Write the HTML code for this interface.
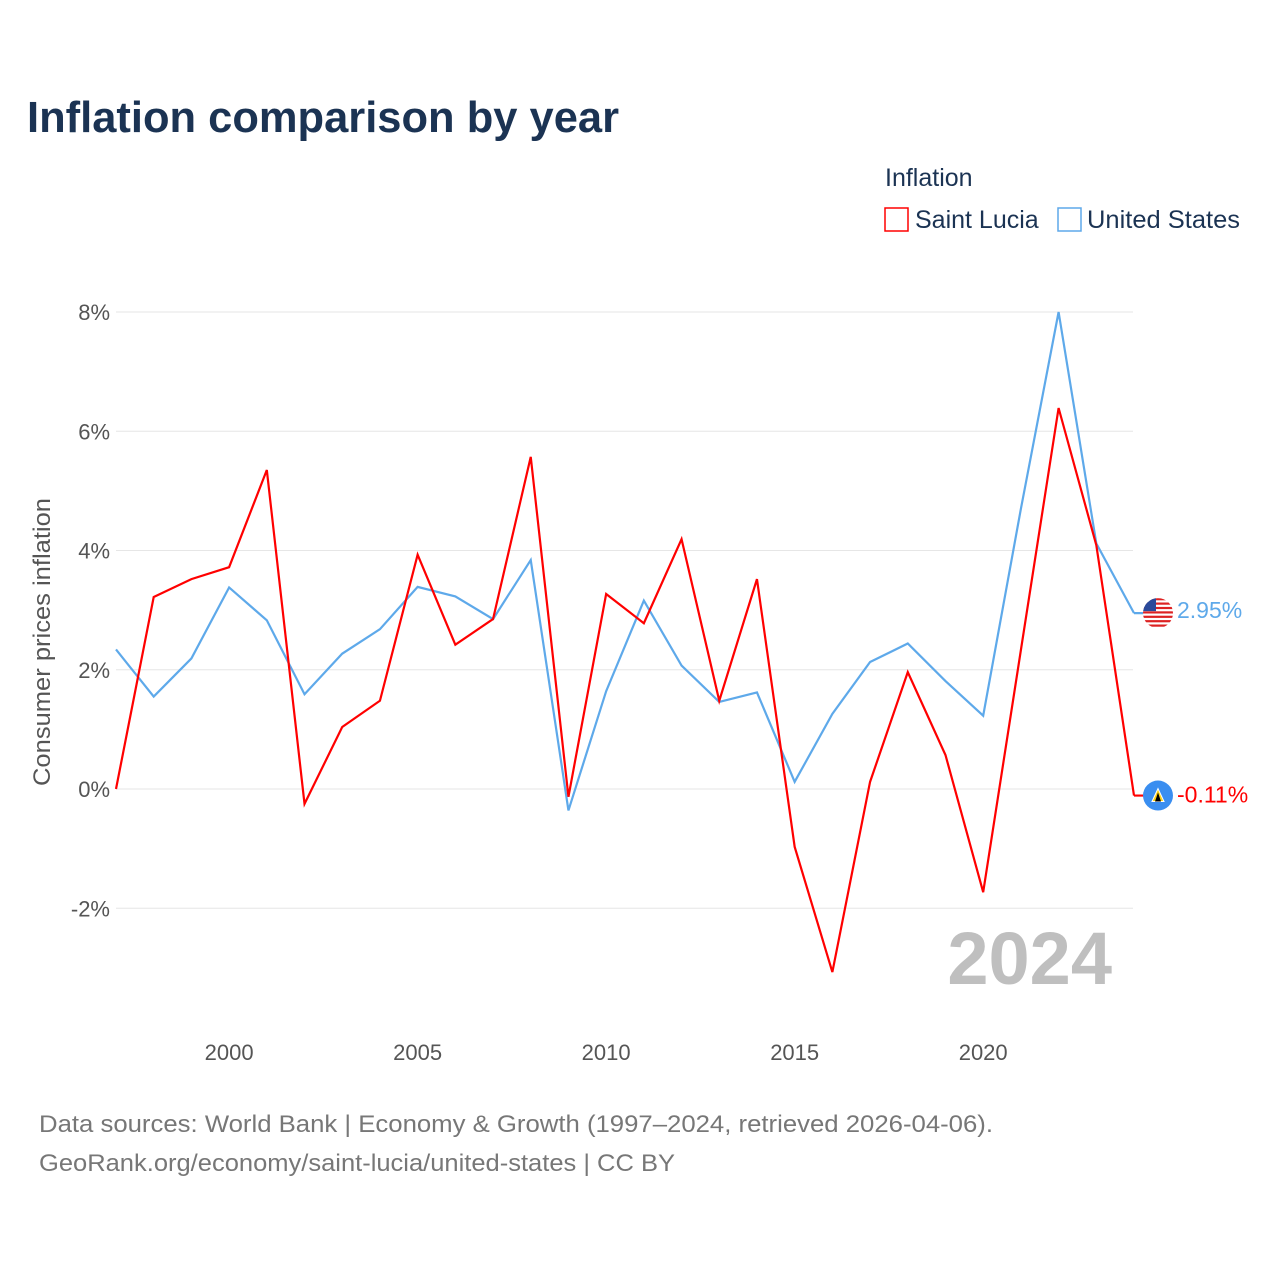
<!DOCTYPE html>
<html><head><meta charset="utf-8"><style>
body{margin:0;background:#fff;font-family:"Liberation Sans",sans-serif;}
#root{position:relative;width:1280px;height:1280px;overflow:hidden;}
</style></head><body>
<div id="root">
<svg id="chart" width="1280" height="1280"></svg>
</div>
<script>
const years=[1997,1998,1999,2000,2001,2002,2003,2004,2005,2006,2007,2008,2009,2010,2011,2012,2013,2014,2015,2016,2017,2018,2019,2020,2021,2022,2023,2024];
const saintLucia=[0.0,3.22,3.52,3.72,5.35,-0.25,1.04,1.48,3.93,2.42,2.85,5.57,-0.13,3.27,2.78,4.19,1.48,3.52,-0.97,-3.07,0.12,1.96,0.57,-1.73,2.33,6.39,4.09,-0.11];
const unitedStates=[2.34,1.55,2.19,3.38,2.83,1.59,2.27,2.68,3.39,3.23,2.85,3.84,-0.36,1.64,3.16,2.07,1.46,1.62,0.12,1.26,2.13,2.44,1.81,1.23,4.70,8.0,4.12,2.95];
const yTicks=[-2,0,2,4,6,8];
const xTicks=[2000,2005,2010,2015,2020];

const NS="http://www.w3.org/2000/svg";
const svg=document.getElementById('chart');
const X=v=>116+(v-1997)*(1134-116)/27;
const Y=v=>789-v*(789-312)/8;
function mk(tag,attrs,parent){const e=document.createElementNS(NS,tag);for(const k in attrs)e.setAttribute(k,attrs[k]);(parent||svg).appendChild(e);return e;}
function txt(s,attrs){const t=mk('text',attrs);t.textContent=s;return t;}

let t=txt('Inflation comparison by year',{x:27,y:132,'font-size':44,'font-weight':'bold',fill:'#1b3353',textLength:592,lengthAdjust:'spacingAndGlyphs'});



t=txt('Inflation',{x:885,y:186,'font-size':25,fill:'#1b3353'});


let r=mk('rect',{x:885,y:208,width:23,height:23,fill:'none',stroke:'#ff0000','stroke-width':1.5});


t=txt('Saint Lucia',{x:915,y:228,'font-size':25,fill:'#1b3353'});


r=mk('rect',{x:1058,y:208,width:23,height:23,fill:'none',stroke:'#5ea9ea','stroke-width':1.5});


t=txt('United States',{x:1087,y:228,'font-size':25,fill:'#1b3353',textLength:153,lengthAdjust:'spacingAndGlyphs'});



yTicks.forEach(v=>{
  const l=mk('line',{x1:116,x2:1133,y1:Y(v),y2:Y(v),stroke:'#e6e6e6','stroke-width':1});
  
  
  const tt=txt(v+'%',{x:110,y:Y(v)+8,'font-size':22,fill:'#555','text-anchor':'end'});
  
  
});
xTicks.forEach(v=>{
  const tt=txt(String(v),{x:X(v),y:1060,'font-size':22,fill:'#555','text-anchor':'middle'});
  
  
});
t=txt('Consumer prices inflation',{x:0,y:0,'font-size':24,fill:'#555','text-anchor':'middle',textLength:288,lengthAdjust:'spacingAndGlyphs',transform:'translate(50,642) rotate(-90)'});



t=txt('2024',{x:1112,y:984,'font-size':74,'font-weight':'bold',fill:'#bfbfbf','text-anchor':'end'});



function line(vals,color,name){
  const p=mk('polyline',{points:vals.map((v,i)=>X(years[i])+','+Y(v)).join(' '),fill:'none',stroke:color,'stroke-width':2.2,'stroke-linejoin':'miter'});
  
  
  const last=vals[vals.length-1];
  mk('line',{x1:X(2024),x2:1158,y1:Y(last),y2:Y(last),stroke:color,'stroke-width':2.2});
}
line(unitedStates,'#5ea9ea','series-united-states');
line(saintLucia,'#ff0000','series-saint-lucia');

const us=unitedStates[unitedStates.length-1];
const g1=mk('g',{});


const cp=mk('clipPath',{id:'c1'},g1);mk('circle',{cx:1158,cy:Y(us),r:15},cp);
const gg=mk('g',{'clip-path':'url(#c1)'},g1);
mk('rect',{x:1143,y:Y(us)-15,width:30,height:30,fill:'#fff'},gg);
for(let i=0;i<7;i++)mk('rect',{x:1143,y:Y(us)-15+i*4.4,width:30,height:2.2,fill:'#d22'},gg);
mk('rect',{x:1143,y:Y(us)-15,width:13,height:13,fill:'#2a4a9a'},gg);
t=txt(us.toFixed(2)+'%',{x:1177,y:Y(us)+5,'font-size':23,fill:'#5ea9ea'});



const sl=saintLucia[saintLucia.length-1];
const g2=mk('g',{});


mk('circle',{cx:1158,cy:Y(sl),r:15,fill:'#3a8ef0'},g2);
mk('polygon',{points:`1158,${Y(sl)-7} 1164,${Y(sl)+6} 1152,${Y(sl)+6}`,fill:'#fcd116',stroke:'#fff','stroke-width':1},g2);
mk('polygon',{points:`1158,${Y(sl)-3} 1161,${Y(sl)+6} 1155,${Y(sl)+6}`,fill:'#000'},g2);
t=txt(sl.toFixed(2)+'%',{x:1177,y:Y(sl)+7,'font-size':23,fill:'#ff0000'});



t=txt('Data sources: World Bank | Economy & Growth (1997–2024, retrieved 2026-04-06).',{x:39,y:1132,'font-size':24,fill:'#777',textLength:954,lengthAdjust:'spacingAndGlyphs'});


t=txt('GeoRank.org/economy/saint-lucia/united-states | CC BY',{x:39,y:1171,'font-size':24,fill:'#777',textLength:636,lengthAdjust:'spacingAndGlyphs'});


</script>
</body></html>
